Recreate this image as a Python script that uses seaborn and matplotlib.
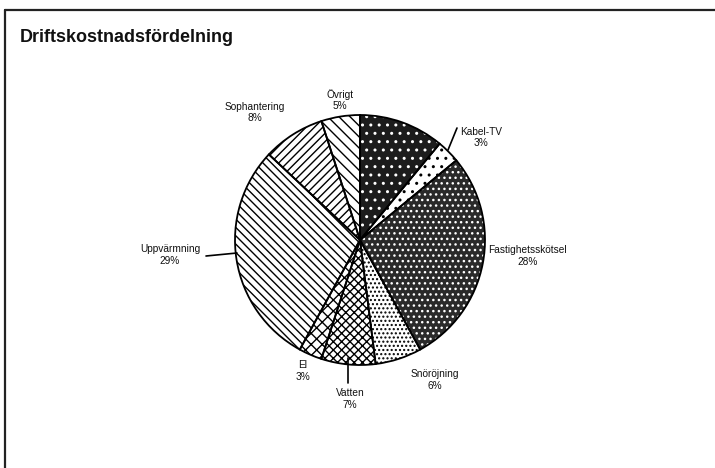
import matplotlib
matplotlib.use("Agg")
import matplotlib.pyplot as plt
import seaborn as sns
from matplotlib.patches import Wedge
from matplotlib.lines import Line2D
from matplotlib import font_manager as fm

sns.set_theme(style="white")

# pick the regular (non-narrow) Liberation Sans file explicitly
reg_file = None
bold_file = None
for f in fm.fontManager.ttflist:
    if f.name == "Liberation Sans" and "Narrow" not in f.fname:
        if f.style == "normal" and f.weight in (400, "normal", "regular"):
            reg_file = f.fname
        if f.style == "normal" and f.weight in (700, "bold"):
            bold_file = f.fname
fp = fm.FontProperties(fname=reg_file) if reg_file else fm.FontProperties(family="DejaVu Sans")
fpb = fm.FontProperties(fname=bold_file) if bold_file else fm.FontProperties(family="DejaVu Sans", weight="bold")
plt.rcParams['font.family'] = ['Liberation Sans', 'DejaVu Sans']

# Data (clockwise from 12 o'clock)
categories = ["", "Kabel-TV", "Fastighetsskötsel", "Snöröjning", "Vatten",
              "El", "Uppvärmning", "Sophantering", "Övrigt"]
values = [11, 3, 28, 6, 7, 3, 29, 8, 5]

# styling per slice: facecolor, hatch, hatch colour
faces = ["#1c1c1c", "white", "#2a2a2a", "white", "white", "white", "white", "white", "white"]
hatches = ["..", "..", "...", "....", "xxxx", "xxx", "\\\\\\\\", "////", "\\\\\\"]
hcols = ["white", "black", "white", "black", "black", "black", "black", "black", "black"]

# label positions (data units, radius = 1)
label_pos = [None, (0.97, 0.82), (1.34, -0.13), (0.60, -1.12), (-0.08, -1.27),
             (-0.46, -1.05), (-1.52, -0.12), (-0.84, 1.02), (-0.16, 1.12)]

W, H = 715, 468
fig = plt.figure(figsize=(W / 100, H / 100), dpi=100)
fig.patch.set_facecolor("white")

# frame
fig.add_artist(Line2D([5 / W, 5 / W], [0, 1 - 10 / H], color="#222222", lw=1.6,
                      transform=fig.transFigure))
fig.add_artist(Line2D([5 / W, 1], [1 - 10 / H, 1 - 10 / H], color="#222222", lw=1.6,
                      transform=fig.transFigure))
fpb.set_size(13)
fig.text(20 / W, 1 - 37 / H, "Driftskostnadsfördelning", fontproperties=fpb,
         ha="left", va="center", color="#111111")

# axes: center at (360,240) px, 125 px per unit
cx, cy, unit = 360, 240, 125
aw, ah = 560, 380
ax = fig.add_axes([(cx - aw / 2) / W, (H - cy - ah / 2) / H, aw / W, ah / H])

wedges, _ = ax.pie(values, startangle=90, counterclock=False, radius=1,
                   colors=faces, wedgeprops=dict(linewidth=0))
ax.set_xlim(-aw / 2 / unit, aw / 2 / unit)
ax.set_ylim(-ah / 2 / unit, ah / 2 / unit)
ax.set_aspect("equal")
ax.axis("off")

plt.rcParams['hatch.linewidth'] = 1.1
for w, h, hc in zip(wedges, hatches, hcols):
    w.set_hatch(h)
    w.set_edgecolor(hc)
    w.set_linewidth(0)
    ol = Wedge(w.center, w.r, w.theta1, w.theta2, facecolor="none",
               edgecolor="black", linewidth=1.3)
    ax.add_patch(ol)

fp.set_size(7.3)
for cat, v, pos in zip(categories, values, label_pos):
    if pos is None:
        continue
    ax.text(pos[0], pos[1], f"{cat}\n{v}%", fontproperties=fp, ha="center",
            va="center", linespacing=1.2, color="#111111")

# leader lines
ax.plot([(448 - cx) / unit, (457 - cx) / unit], [(cy - 150) / unit, (cy - 128) / unit],
        color="black", lw=1.2)
ax.plot([(348 - cx) / unit, (348 - cx) / unit], [(cy - 358) / unit, (cy - 383) / unit],
        color="black", lw=1.2)
ax.plot([(206 - cx) / unit, (237 - cx) / unit], [(cy - 256) / unit, (cy - 253) / unit],
        color="black", lw=1.2)

fig.savefig("out.png", dpi=100, facecolor="white")
